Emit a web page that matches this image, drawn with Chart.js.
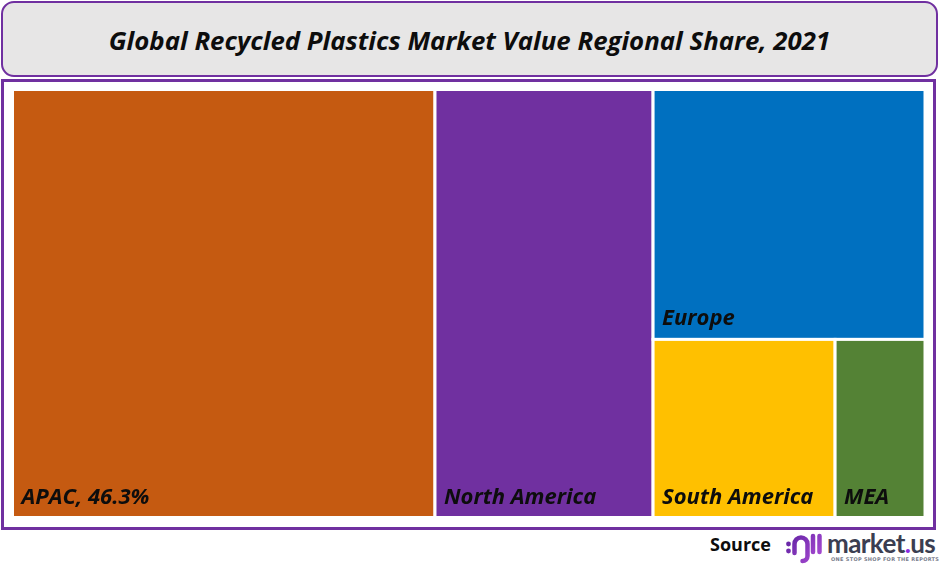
<!DOCTYPE html>
<html>
<head>
<meta charset="utf-8">
<script src="https://cdn.jsdelivr.net/npm/chart.js@4/dist/chart.umd.min.js"></script>
<style>
  html, body { margin: 0; padding: 0; background: #ffffff; }
  body { width: 940px; height: 565px; position: relative; overflow: hidden; font-family: "Open Sans", Lato, sans-serif; }
  #title-box {
    position: absolute; left: 1px; top: 1px; width: 933px; height: 72px;
    background: #e7e6e6; border: 2px solid #7030a0; border-radius: 13px;
  }
  #title {
    position: absolute; left: 0; top: 19px; width: 100%; text-align: center;
    font: italic 700 25.8px "Open Sans", sans-serif; color: #0d0d0d; white-space: nowrap;
  }
  #frame {
    position: absolute; left: 1px; top: 79px; width: 929px; height: 445px;
    border: 3px solid #7030a0;
  }
  #chart { position: absolute; left: 0; top: 0; }
  #source {
    position: absolute; left: 710px; top: 532px;
    font: 700 18px "Open Sans", sans-serif; color: #0d0d0d;
  }
  #logo { position: absolute; left: 785px; top: 530px; }
  #brand {
    position: absolute; left: 827px; top: 527px;
    font: 700 26px Lato, sans-serif; color: #3b3e51; letter-spacing: -0.6px;
  }
  #brand span { color: #8a2be2; }
  #tagline {
    position: absolute; left: 831px; top: 556px; width: 104px;
    font: 700 5px "DejaVu Sans", sans-serif; color: #7a7d8c; letter-spacing: 0.3px; white-space: nowrap;
  }
</style>
</head>
<body>

<div id="title-box"><div id="title">Global Recycled Plastics Market Value Regional Share, 2021</div></div>

<div id="frame"><canvas id="chart" width="929" height="445"></canvas></div>

<div id="source">Source</div>
<svg id="logo" width="38" height="34" viewBox="0 0 38 34">
  <defs>
    <linearGradient id="lg" gradientUnits="userSpaceOnUse" x1="0" y1="4" x2="38" y2="32">
      <stop offset="0" stop-color="#5b1f9e"/>
      <stop offset="1" stop-color="#b04fd8"/>
    </linearGradient>
  </defs>
  <circle cx="3.5" cy="14" r="2.4" fill="url(#lg)"/>
  <circle cx="3.5" cy="21" r="2.4" fill="url(#lg)"/>
  <path d="M9.5 23 V14 a6.5 6.5 0 0 1 13 0 V26 a5 5 0 0 1 -5 5" fill="none" stroke="url(#lg)" stroke-width="4.5" stroke-linecap="round"/>
  <line x1="28" y1="6" x2="28" y2="22" stroke="url(#lg)" stroke-width="4.5" stroke-linecap="round"/>
  <line x1="34.5" y1="6" x2="34.5" y2="22" stroke="url(#lg)" stroke-width="4.5" stroke-linecap="round"/>
</svg>
<div id="brand">market<span>.</span>us</div>
<div id="tagline">ONE STOP SHOP FOR THE REPORTS</div>

<script>

/**
 * Data
 */
const REGIONS = ['APAC', 'North America', 'Europe', 'South America', 'MEA'];
const SHARES = [46.3, 23.9, 17.4, 8.3, 4.1];
const CELL_LABELS = ['APAC, 46.3%', 'North America', 'Europe', 'South America', 'MEA'];
const CELL_COLORS = ['#c55a11', '#7030a0', '#0070c0', '#ffc000', '#548235'];

/**
 * Squarified treemap layout
 * @param values
 * @param rect  rectangle to fill
 */
function worst(row, side){
  let sum = 0, max = -Infinity, min = Infinity;
  for (let a of row) { sum += a; max = Math.max(max, a); min = Math.min(min, a); }
  let s2 = side * side;
  return Math.max(s2 * max / (sum * sum), (sum * sum) / (s2 * min));
}

function layoutRow(row, rect, out){
  let sum = row.reduce((a, b) => a + b, 0);
  if (rect.w >= rect.h) {
    let t = sum / rect.h;
    let yy = rect.y;
    for (let a of row) { out.push({x: rect.x, y: yy, w: t, h: a / t}); yy += a / t; }
    return {x: rect.x + t, y: rect.y, w: rect.w - t, h: rect.h};
  }
  let t = sum / rect.w;
  let xx = rect.x;
  for (let a of row) { out.push({x: xx, y: rect.y, w: a / t, h: t}); xx += a / t; }
  return {x: rect.x, y: rect.y + t, w: rect.w, h: rect.h - t};
}

function squarify(values, rect){
  let total = values.reduce((a, b) => a + b, 0);
  let areas = values.map(v => v * rect.w * rect.h / total);
  let out = [];
  let row = [];
  let i = 0;
  while (i < areas.length) {
    let side = Math.min(rect.w, rect.h);
    let next = row.concat(areas[i]);
    if (row.length === 0 || worst(next, side) <= worst(row, side)) {
      row = next;
      i++;
    } else {
      rect = layoutRow(row, rect, out);
      row = [];
    }
  }
  if (row.length) layoutRow(row, rect, out);
  return out;
}

/**
 * Treemap plugin : cells drawn through the chart scales
 */
const treemapPlugin = {
  id: 'treemap',
  afterDatasetsDraw(chart){
    let ctx = chart.ctx;
    let xs = chart.scales.x;
    let ys = chart.scales.y;
    let area = chart.chartArea;
    let k = (area.right - area.left) / (area.bottom - area.top);

    // layout in value units (x 0..100, y 0..100), keeping the real aspect ratio
    let cells = squarify(SHARES, {x: 0, y: 0, w: 100 * k, h: 100});

    ctx.save();
    cells.forEach((c, i) => {
      let left = xs.getPixelForValue(c.x / k);
      let right = xs.getPixelForValue((c.x + c.w) / k);
      let top = ys.getPixelForValue(c.y);
      let bottom = ys.getPixelForValue(c.y + c.h);

      ctx.fillStyle = CELL_COLORS[i];
      ctx.fillRect(left, top, right - left, bottom - top);
      ctx.strokeStyle = '#ffffff';
      ctx.lineWidth = 3;
      ctx.strokeRect(left, top, right - left, bottom - top);

      ctx.fillStyle = '#0d0d0d';
      ctx.font = 'italic 700 22px "Open Sans", sans-serif';
      ctx.textBaseline = 'alphabetic';
      ctx.textAlign = 'left';
      ctx.fillText(CELL_LABELS[i], left + 9, bottom - 14);
    });
    ctx.restore();
  }
};

//
//
// Draw Chart
let canvas_object = document.getElementById('chart');
new Chart(canvas_object.getContext('2d'), {
  type: 'scatter',
  data: {
    labels: REGIONS,
    datasets: [{ label: 'Share', data: [] }]
  },
  options: {
    responsive: false,
    animation: false,
    layout: { padding: { left: 8.5, right: 8, top: 7.5, bottom: 9.5 } },
    plugins: { legend: { display: false }, tooltip: { enabled: false } },
    scales: {
      x: { display: false, min: 0, max: 100 },
      y: { display: false, min: 0, max: 100, reverse: true }
    }
  },
  plugins: [treemapPlugin]
});

</script>
</body>
</html>
